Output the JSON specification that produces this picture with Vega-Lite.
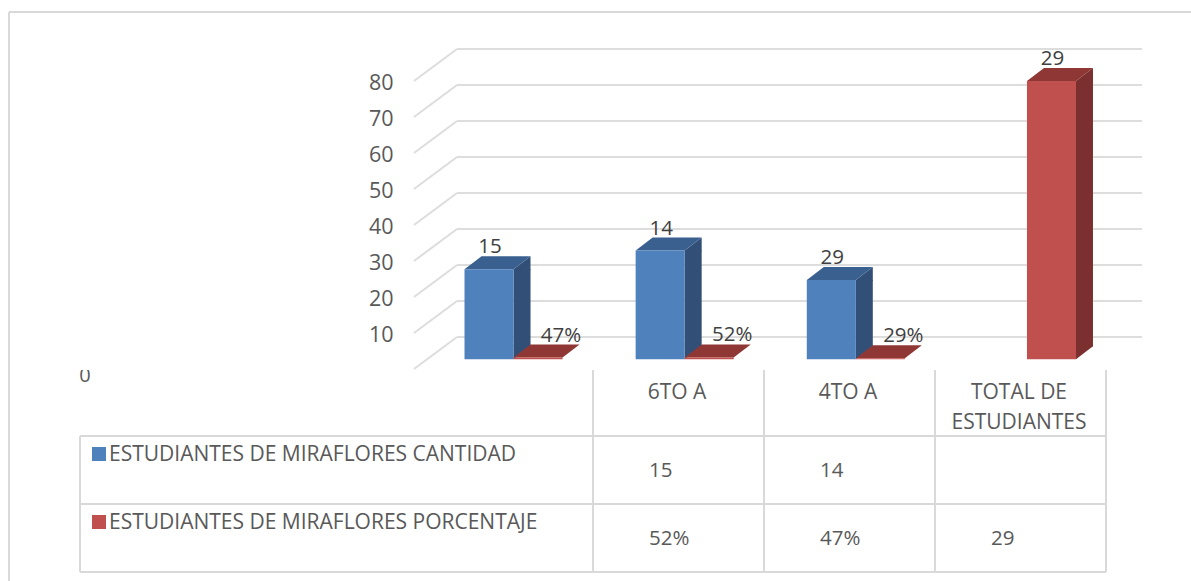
{
  "$schema": "https://vega.github.io/schema/vega-lite/v6.json",
  "width": 1191,
  "height": 581,
  "padding": 0,
  "autosize": "none",
  "background": "white",
  "config": {"view": {"stroke": null}},
  "datasets": {
    "bars": [
      {"cat": "Grupo 1", "series": "CANTIDAD", "value": 25, "label": "15"},
      {"cat": "Grupo 1", "series": "PORCENTAJE", "value": 0.47, "label": "47%"},
      {"cat": "6TO A", "series": "CANTIDAD", "value": 30.2, "label": "14"},
      {"cat": "6TO A", "series": "PORCENTAJE", "value": 0.52, "label": "52%"},
      {"cat": "4TO A", "series": "CANTIDAD", "value": 22, "label": "29"},
      {"cat": "4TO A", "series": "PORCENTAJE", "value": 0.29, "label": "29%"},
      {"cat": "TOTAL DE ESTUDIANTES", "series": "PORCENTAJE", "value": 77.3, "label": "29"}
    ],
    "ticks": [{"v": 0}, {"v": 10}, {"v": 20}, {"v": 30}, {"v": 40}, {"v": 50}, {"v": 60}, {"v": 70}, {"v": 80}],
    "body": [
      {"col": 0, "row": 1.5, "text": "15"},
      {"col": 1, "row": 1.5, "text": "14"},
      {"col": 0, "row": 2.5, "text": "52%"},
      {"col": 1, "row": 2.5, "text": "47%"},
      {"col": 2, "row": 2.5, "text": "29"}
    ],
    "header": [
      {"col": 0, "row": 0.5, "text": "6TO A"},
      {"col": 1, "row": 0.5, "text": "4TO A"},
      {"col": 2, "row": 0.5, "text": "TOTAL DE|ESTUDIANTES"}
    ],
    "rows": [
      {"col": -3, "row": 1, "series": "CANTIDAD", "text": "ESTUDIANTES DE MIRAFLORES CANTIDAD"},
      {"col": -3, "row": 2, "series": "PORCENTAJE", "text": "ESTUDIANTES DE MIRAFLORES PORCENTAJE"}
    ],
    "hlines": [{"row": 1}, {"row": 2}, {"row": 3}],
    "vlines": [{"col": 0}, {"col": 1}, {"col": 2}, {"col": 3}]
  },
  "layer": [
    {
      "data": {"name": "ticks"},
      "layer": [
        {
          "mark": {"type": "rule", "color": "#DDDDDD", "strokeWidth": 2, "y2Offset": -32},
          "encoding": {
            "x": {"datum": 0, "type": "quantitative", "scale": {"domain": [0, 1], "range": [414, 457]}, "axis": null},
            "x2": {"datum": 1},
            "y": {"field": "v", "type": "quantitative", "scale": {"domain": [0, 80], "range": [369, 81]},
              "axis": {"values": [10, 20, 30, 40, 50, 60, 70, 80], "domain": false, "ticks": false, "grid": false, "title": null, "labels": true, "labelFont": "Open Sans", "labelFontSize": 21.5, "labelColor": "#595959", "offset": -393, "labelPadding": 0, "labelOffset": 2.5}},
            "y2": {"field": "v"}
          }
        },
        {
          "mark": {"type": "rule", "color": "#DDDDDD", "strokeWidth": 2, "yOffset": -32, "y2Offset": -32},
          "encoding": {
            "x": {"datum": 1, "type": "quantitative"},
            "x2": {"datum": 16.93},
            "y": {"field": "v", "type": "quantitative"},
            "y2": {"field": "v"}
          }
        }
      ]
    },
    {
      "data": {"name": "bars"},
      "transform": [{"filter": "datum.value >= 1"}],
      "mark": {"type": "bar", "width": 17, "y2Offset": -13},
      "encoding": {
        "x": {"field": "cat", "type": "nominal", "sort": null, "axis": null,
          "scale": {"domain": ["Grupo 1", "6TO A", "4TO A", "TOTAL DE ESTUDIANTES"], "range": [497.5, 1109], "paddingInner": 0.427, "paddingOuter": 0}},
        "xOffset": {"field": "series", "type": "nominal", "scale": {"domain": ["CANTIDAD", "PORCENTAJE"]}},
        "y": {"field": "value", "type": "quantitative", "axis": null, "scale": {"domain": [0, 80], "range": [359.3, 71.3]}},
        "y2": {"datum": 0},
        "color": {"condition": {"test": "datum.series === 'CANTIDAD'", "value": "#325077"}, "value": "#7B302F"}
      }
    },
    {
      "data": {"name": "bars"},
      "layer": [
        {
          "transform": [{"filter": "datum.value >= 1"}],
          "mark": {"type": "point", "filled": true, "opacity": 1, "strokeWidth": 0, "size": 4, "shape": "M24.5,0L41.5,-13L41.5,1L24.5,1Z"},
          "encoding": {
            "x": {"field": "cat", "type": "nominal", "sort": null, "axis": null,
              "scale": {"domain": ["Grupo 1", "6TO A", "4TO A", "TOTAL DE ESTUDIANTES"], "range": [464.5, 1076], "paddingInner": 0.427, "paddingOuter": 0}},
            "xOffset": {"field": "series", "type": "nominal", "scale": {"domain": ["CANTIDAD", "PORCENTAJE"]}},
            "y": {"field": "value", "type": "quantitative", "axis": null, "scale": {"domain": [0, 80], "range": [359.3, 71.3]}},
            "color": {"condition": {"test": "datum.series === 'CANTIDAD'", "value": "#325077"}, "value": "#7B302F"}
          }
        },
        {
          "transform": [{"filter": "datum.value >= 1"}],
          "mark": {"type": "point", "filled": true, "opacity": 1, "strokeWidth": 0, "size": 4, "shape": "M24.5,0L41.5,-13L41.5,-14L24.5,-14Z"},
          "encoding": {
            "x": {"field": "cat", "type": "nominal", "sort": null},
            "xOffset": {"field": "series", "type": "nominal"},
            "y": {"datum": 0, "type": "quantitative"},
            "color": {"condition": {"test": "datum.series === 'CANTIDAD'", "value": "#325077"}, "value": "#7B302F"}
          }
        },
        {
          "mark": {"type": "point", "filled": true, "opacity": 1, "strokeWidth": 0, "size": 4, "shape": "M-24.5,0L24.5,0L41.5,-13L-7.5,-13Z"},
          "encoding": {
            "x": {"field": "cat", "type": "nominal", "sort": null},
            "xOffset": {"field": "series", "type": "nominal"},
            "y": {"field": "value", "type": "quantitative"},
            "color": {"condition": {"test": "datum.series === 'CANTIDAD'", "value": "#3A6090"}, "value": "#8F3735"}
          }
        },
        {
          "mark": {"type": "bar"},
          "encoding": {
            "x": {"field": "cat", "type": "nominal", "sort": null},
            "xOffset": {"field": "series", "type": "nominal"},
            "y": {"field": "value", "type": "quantitative"},
            "y2": {"datum": 0},
            "color": {"field": "series", "type": "nominal", "legend": null, "scale": {"domain": ["CANTIDAD", "PORCENTAJE"], "range": ["#4F81BD", "#C0504D"]}}
          }
        },
        {
          "transform": [{"filter": "datum.value >= 1"}],
          "mark": {"type": "text", "font": "Open Sans", "fontSize": 20.5, "color": "#404040", "dx": 1, "dy": -16, "baseline": "alphabetic"},
          "encoding": {
            "x": {"field": "cat", "type": "nominal", "sort": null},
            "xOffset": {"field": "series", "type": "nominal"},
            "y": {"field": "value", "type": "quantitative"},
            "text": {"field": "label"}
          }
        },
        {
          "transform": [{"filter": "datum.value < 1"}],
          "mark": {"type": "text", "font": "Open Sans", "fontSize": 20.5, "color": "#404040", "dx": 23, "dy": -16, "baseline": "alphabetic"},
          "encoding": {
            "x": {"field": "cat", "type": "nominal", "sort": null},
            "xOffset": {"field": "series", "type": "nominal"},
            "y": {"field": "value", "type": "quantitative"},
            "text": {"field": "label"}
          }
        }
      ]
    },
    {
      "layer": [
        {
          "data": {"name": "hlines"},
          "mark": {"type": "rule", "color": "#D9D9D9", "strokeWidth": 2},
          "encoding": {
            "x": {"datum": -3, "type": "quantitative", "axis": null, "scale": {"domain": [-3, 3], "range": [80, 1106]}},
            "x2": {"datum": 3},
            "y": {"field": "row", "type": "quantitative", "axis": null, "scale": {"domain": [0, 3], "range": [368, 572]}}
          }
        },
        {
          "data": {"values": [{"col": -3}]},
          "mark": {"type": "rule", "color": "#D9D9D9", "strokeWidth": 2},
          "encoding": {
            "x": {"field": "col", "type": "quantitative"},
            "y": {"datum": 1, "type": "quantitative"},
            "y2": {"datum": 3}
          }
        },
        {
          "data": {"name": "vlines"},
          "mark": {"type": "rule", "color": "#D9D9D9", "strokeWidth": 2},
          "encoding": {
            "x": {"field": "col", "type": "quantitative"},
            "y": {"datum": 0.03, "type": "quantitative"},
            "y2": {"datum": 3}
          }
        },
        {
          "data": {"name": "body"},
          "mark": {"type": "text", "font": "Open Sans", "fontSize": 20.5, "color": "#595959", "align": "left", "dx": 56, "dy": 1},
          "encoding": {
            "x": {"field": "col", "type": "quantitative"},
            "y": {"field": "row", "type": "quantitative"},
            "text": {"field": "text"}
          }
        },
        {
          "data": {"name": "header"},
          "mark": {"type": "text", "font": "Open Sans", "fontSize": 21, "color": "#595959", "align": "center", "dx": 84, "baseline": "top", "dy": -20, "lineBreak": "|", "lineHeight": 30},
          "encoding": {
            "x": {"field": "col", "type": "quantitative"},
            "y": {"field": "row", "type": "quantitative"},
            "text": {"field": "text"}
          }
        },
        {
          "data": {"name": "rows"},
          "mark": {"type": "text", "font": "Open Sans", "fontSize": 21, "color": "#595959", "align": "left", "dx": 29, "dy": 19},
          "encoding": {
            "x": {"field": "col", "type": "quantitative"},
            "y": {"field": "row", "type": "quantitative"},
            "text": {"field": "text"}
          }
        },
        {
          "data": {"name": "rows"},
          "mark": {"type": "point", "shape": "square", "filled": true, "opacity": 1, "strokeWidth": 0, "size": 196, "xOffset": 19, "yOffset": 18},
          "encoding": {
            "x": {"field": "col", "type": "quantitative"},
            "y": {"field": "row", "type": "quantitative"},
            "color": {"field": "series", "type": "nominal", "legend": null, "scale": {"domain": ["CANTIDAD", "PORCENTAJE"], "range": ["#4F81BD", "#C0504D"]}}
          }
        },
        {
          "data": {"values": [{"col": -3, "row": 0, "t": "0"}]},
          "mark": {"type": "text", "font": "Open Sans", "fontSize": 20, "color": "#595959", "dx": 5, "dy": 8},
          "encoding": {
            "x": {"field": "col", "type": "quantitative"},
            "y": {"field": "row", "type": "quantitative"},
            "text": {"field": "t"}
          }
        },
        {
          "data": {"values": [{"row": 0}]},
          "mark": {"type": "rule", "color": "white", "strokeWidth": 4},
          "encoding": {
            "x": {"datum": -3.1, "type": "quantitative"},
            "x2": {"datum": -2.9},
            "y": {"field": "row", "type": "quantitative"}
          }
        }
      ]
    },
    {
      "data": {"values": [{"edge": "frame"}]},
      "layer": [
        {
          "mark": {"type": "rule", "color": "#D9D9D9", "strokeWidth": 2},
          "encoding": {
            "x": {"datum": 0, "type": "quantitative", "axis": null, "scale": {"domain": [0, 1], "range": [9, 1191]}},
            "x2": {"datum": 1},
            "y": {"datum": 0, "type": "quantitative", "axis": null, "scale": {"domain": [0, 1], "range": [12, 581]}}
          }
        },
        {
          "mark": {"type": "rule", "color": "#D9D9D9", "strokeWidth": 2},
          "encoding": {
            "x": {"datum": 0, "type": "quantitative"},
            "y": {"datum": 0, "type": "quantitative"},
            "y2": {"datum": 1}
          }
        }
      ]
    }
  ],
  "resolve": {"scale": {"x": "independent", "y": "independent", "color": "independent"}}
}
